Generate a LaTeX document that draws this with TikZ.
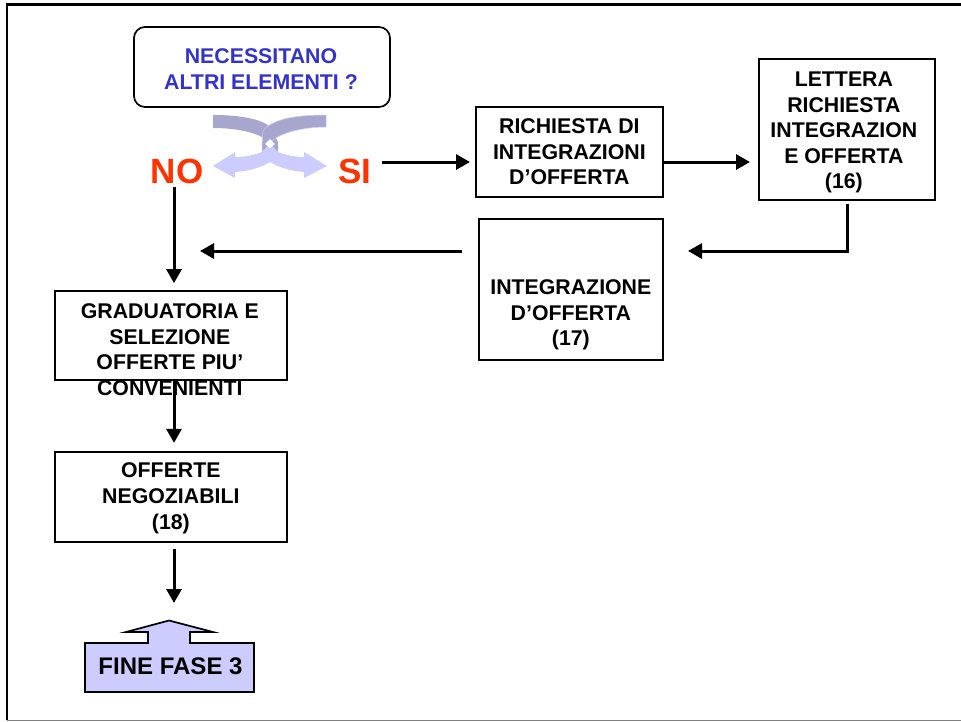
\documentclass[tikz,border=0pt]{standalone}
\usepackage{fontspec}
\setmainfont{Liberation Sans}
\usetikzlibrary{calc,arrows.meta,positioning}
\definecolor{askblue}{HTML}{3333CC}
\definecolor{answerred}{HTML}{FF3300}
\definecolor{bandgrey}{HTML}{A6A6CE}
\definecolor{paleblue}{HTML}{CCCCFF}

\begin{document}
\begin{tikzpicture}[
        x=1pt, y=-1pt,
        >={Triangle[length=14pt,width=15pt]}, line width=1.7pt,
        boxtext/.style={align=center,inner sep=0pt,font=\bfseries\fontsize{21.3}{25.6}\selectfont},
        answer/.style={inner sep=0pt,text=answerred,font=\bfseries\fontsize{35}{40}\selectfont},
        flow/.style={->,line width=3pt}
    ]
    \useasboundingbox (0,0) rectangle (961,721);

%%
% Page frame
    \draw[line width=2.5pt] (7,720) -- (7,4.5) -- (961,4.5);
    \draw[line width=1pt,gray] (7,720.5) -- (961,720.5);

%%
% Question and the crossed answer symbol
    \node (ask) [draw,rounded corners=11pt,minimum width=256pt,minimum height=80pt,
        label={[boxtext,text=askblue,yshift=-2pt,xshift=-1pt]center:{NECESSITANO\\ALTRI ELEMENTI ?}}] at (262,67) {};
    \fill[bandgrey] (213,115) .. controls (240,115) and (262,119) .. (270,127)
        -- (278,142) -- (278,152) -- (270,144) .. controls (266,136) and (245,128) .. (213,128) -- cycle;
    \fill[paleblue] (213,166) -- (235,152) -- (235,157) .. controls (245,157) and (255,155) .. (262,152)
        -- (270,144) -- (278,152) .. controls (285,155) and (295,157) .. (304,157)
        -- (304,152) -- (327,166) -- (304,178) -- (304,172) .. controls (290,171) and (278,167) .. (270,162)
        .. controls (262,167) and (250,171) .. (235,172) -- (235,178) -- cycle;
    \fill[bandgrey,draw=paleblue,line width=0.5pt] (326,115) .. controls (295,115) and (272,119) .. (263,131)
        -- (262,145) -- (262,152) -- (270,144) .. controls (272,137) and (295,127) .. (326,127) -- cycle;
    \fill[white] (270,139) -- (275,144) -- (270,148) -- (265,144) -- cycle;
    \node (no) [answer] at (177,171) {NO};
    \node (si) [answer] at (355,171) {SI};

%%
% Boxes of the integration loop
    \node (rich) [draw,minimum width=187pt,minimum height=90pt,anchor=west,
        label={[boxtext]center:{RICHIESTA DI\\INTEGRAZIONI\\D’OFFERTA}}] at (475,152) {};
    \node (lett) [draw,minimum width=176pt,minimum height=141pt,anchor=west,
        label={[boxtext,yshift=-3pt,xshift=-3pt]center:{LETTERA\\RICHIESTA\\INTEGRAZION\\E OFFERTA\\(16)}}] at (758,129.5) {};
    \node (integ) [draw,minimum width=184pt,minimum height=141pt,anchor=west,
        label={[boxtext,yshift=-25.5pt]center:{INTEGRAZIONE\\D’OFFERTA\\(17)}}] at (478,289.5) {};
    \coordinate (lettturn) at (847,251);
    \coordinate (integin) at (663,251);
    \coordinate (integout) at (478,251);
    \coordinate (gradin) at (174,251);

%%
% Ranking, negotiable offers and end of the phase
    \node (grad) [draw,minimum width=232pt,minimum height=89pt,anchor=west,
        label={[boxtext,yshift=-14pt,xshift=-1pt]center:{GRADUATORIA E\\SELEZIONE\\OFFERTE PIU’\\CONVENIENTI}}] at (54,335.5) {};
    \node (off) [draw,minimum width=232pt,minimum height=90pt,below=70pt of grad.south,anchor=north,
        label={[boxtext,yshift=-1.5pt]center:{OFFERTE\\NEGOZIABILI\\(18)}}] {};
    \coordinate (finetop) at (174,610);
    \draw[fill=paleblue] (85,643) -- (148,643) -- (148,632) -- (126,632) -- (169,620.5) -- (213,632)
        -- (190,632) -- (190,643) -- (254,643) -- (254,692) -- (85,692) -- cycle;
    \node (fine) [inner sep=0pt,font=\bfseries\fontsize{24}{28}\selectfont] at (170.5,666) {FINE FASE 3};

    \draw[flow,shorten >=5pt] (si.east |- 0,162) ++(10,0) -- (rich.west |- 0,162);
    \draw[flow,shorten >=8pt] (rich.east |- 0,162) -- (lett.west |- 0,162);
    \draw[flow,shorten <=3pt,shorten >=25pt] (lett.south -| lettturn) -- (lettturn) -- (integin);
    \draw[flow,shorten <=16pt,shorten >=26pt] (integout) -- (gradin);
    \draw[flow,shorten >=7pt] (no.south -| gradin) ++(0,3) -- (grad.north -| gradin);
    \draw[flow,shorten >=8pt] (grad.south -| gradin) -- (off.north -| gradin);
    \draw[flow,shorten <=6pt,shorten >=7pt] (off.south -| gradin) -- (finetop);
\end{tikzpicture}
\end{document}
